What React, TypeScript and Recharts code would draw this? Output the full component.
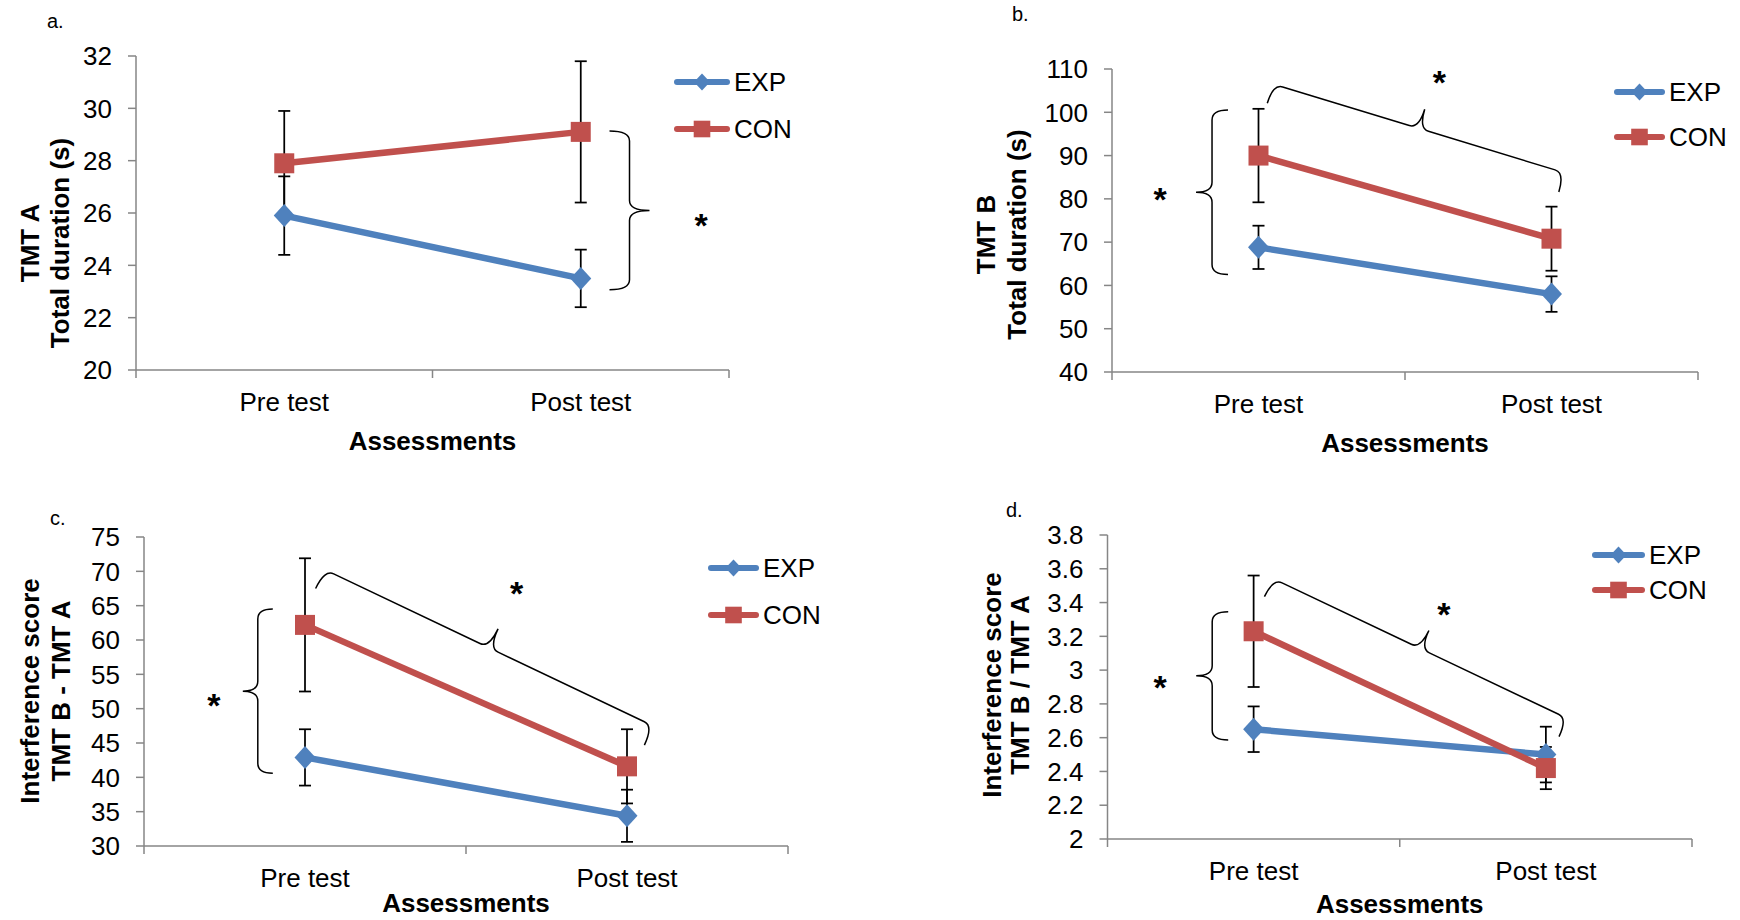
import React from 'react';
import { LineChart, Line, XAxis, YAxis, ErrorBar, Legend, ReferenceLine, ReferenceDot } from 'recharts';

const FONT = '"Liberation Sans", Arial, sans-serif';
const BLUE = '#4F81BD';
const RED = '#C0504D';
const AXIS = '#868686';

const categories = ['Pre test', 'Post test'];
const categoryX = [0.5, 1.5];
const axisTicksX = [0, 0.5, 1, 1.5, 2];
const legendOrder = ['exp', 'con'];

// a. TMT A total duration
const tmtAExp = [25.9, 23.5];
const tmtAExpSd = [1.5, 1.1];
const tmtACon = [27.9, 29.1];
const tmtAConSd = [2.0, 2.7];
const tmtATicks = [20, 22, 24, 26, 28, 30, 32];

// b. TMT B total duration
const tmtBExp = [68.8, 58.0];
const tmtBExpSd = [5.0, 4.1];
const tmtBCon = [90.0, 70.8];
const tmtBConSd = [10.8, 7.4];
const tmtBTicks = [40, 50, 60, 70, 80, 90, 100, 110];

// c. interference score B - A
const diffExp = [42.9, 34.4];
const diffExpSd = [4.1, 3.8];
const diffCon = [62.2, 41.6];
const diffConSd = [9.7, 5.4];
const diffTicks = [30, 35, 40, 45, 50, 55, 60, 65, 70, 75];

// d. interference score B / A
const ratioExp = [2.65, 2.5];
const ratioExpSd = [0.135, 0.165];
const ratioCon = [3.23, 2.42];
const ratioConSd = [0.33, 0.125];
const ratioTicks = [2, 2.2, 2.4, 2.6, 2.8, 3, 3.2, 3.4, 3.6, 3.8];

// significance braces, in data units [x, y] (x runs 0..2 across the two categories)
const tmtABraces = [{ from: [1.597, 29.13], to: [1.597, 23.07], side: -1, half: 20 }];
const tmtAStars = [[1.906, 25.81]];
const tmtBBraces = [
  { from: [0.396, 100.5], to: [0.396, 62.5], side: 1, half: 16 },
  { from: [0.53, 102.1], to: [1.525, 81.6], side: -1, half: 20 },
];
const tmtBStars = [[0.164, 81.6], [1.117, 108.6]];
const diffBraces = [
  { from: [0.4, 64.5], to: [0.4, 40.6], side: 1, half: 15 },
  { from: [0.533, 67.5], to: [1.554, 44.7], side: -1, half: 21 },
];
const diffStars = [[0.217, 51.5], [1.157, 67.9]];
const ratioBraces = [
  { from: [0.413, 3.346], to: [0.413, 2.586], side: 1, half: 16 },
  { from: [0.537, 3.435], to: [1.545, 2.606], side: -1, half: 20 },
];
const ratioStars = [[0.18, 2.942], [1.151, 3.376]];

const panels = [
  {
    letter: 'a.', left: 0, top: 0,
    exp: tmtAExp, expSd: tmtAExpSd, con: tmtACon, conSd: tmtAConSd,
    domain: [20, 32], ticks: tmtATicks, braces: tmtABraces, stars: tmtAStars,
    title: ['TMT A', 'Total duration (s)'],
    margin: { top: 56, right: 141, bottom: 30, left: 76 },
    titleX: [39, 69], titleY: 243, letterPos: [47, 28], xTitleDy: 80,
    legend: { x: 674, y: 81.7, gap: 47.6, line: 56 },
  },
  {
    letter: 'b.', left: 870, top: 0,
    exp: tmtBExp, expSd: tmtBExpSd, con: tmtBCon, conSd: tmtBConSd,
    domain: [40, 110], ticks: tmtBTicks, braces: tmtBBraces, stars: tmtBStars,
    title: ['TMT B', 'Total duration (s)'],
    margin: { top: 69, right: 42, bottom: 28, left: 182 },
    titleX: [125, 155.5], titleY: 234.5, letterPos: [142, 21], xTitleDy: 80,
    legend: { x: 744, y: 91.7, gap: 45, line: 51 },
  },
  {
    letter: 'c.', left: 0, top: 460,
    exp: diffExp, expSd: diffExpSd, con: diffCon, conSd: diffConSd,
    domain: [30, 75], ticks: diffTicks, braces: diffBraces, stars: diffStars,
    title: ['Interference score', 'TMT B - TMT A'],
    margin: { top: 77, right: 82, bottom: 14, left: 84 },
    titleX: [39, 69.5], titleY: 231, letterPos: [50, 65], xTitleDy: 66,
    legend: { x: 708, y: 108, gap: 47, line: 51 },
  },
  {
    letter: 'd.', left: 870, top: 460,
    exp: ratioExp, expSd: ratioExpSd, con: ratioCon, conSd: ratioConSd,
    domain: [2, 3.8], ticks: ratioTicks, braces: ratioBraces, stars: ratioStars,
    title: ['Interference score', 'TMT B / TMT A'],
    margin: { top: 75, right: 48, bottom: 21, left: 177.5 },
    titleX: [130.5, 159], titleY: 225, letterPos: [136, 57], xTitleDy: 74,
    legend: { x: 722, y: 95, gap: 35, line: 53 },
  },
];

const fmt = (v: number) => `${Math.round(v * 10) / 10}`;

function CategoryTick(props: any) {
  const { x, y, payload } = props;
  const idx = categoryX.indexOf(payload.value);
  if (idx >= 0) {
    return (
      <text x={x} y={y + 41} textAnchor="middle" fontSize={26} fontFamily={FONT} fill="#000">
        {categories[idx]}
      </text>
    );
  }
  return <line x1={x} x2={x} y1={y} y2={y + 8} stroke={AXIS} strokeWidth={1.5} />;
}

const diamondDot = (props: any) => {
  const { cx, cy, index } = props;
  if (cx == null || cy == null) return <g key={`dd${index}`} />;
  return (
    <path key={`dd${index}`} d={`M${cx},${cy - 11.5} L${cx + 10.5},${cy} L${cx},${cy + 11.5} L${cx - 10.5},${cy} Z`} fill={BLUE} />
  );
};

const squareDot = (props: any) => {
  const { cx, cy, index } = props;
  if (cx == null || cy == null) return <g key={`sd${index}`} />;
  return <rect key={`sd${index}`} x={cx - 10} y={cy - 10} width={20} height={20} fill={RED} />;
};

function bracePath(x1: number, y1: number, x2: number, y2: number, side: number, h: number) {
  const L = Math.hypot(x2 - x1, y2 - y1) || 1;
  const dx = (x2 - x1) / L;
  const dy = (y2 - y1) / L;
  const nx = -dy * side;
  const ny = dx * side;
  const r = Math.min(10, L / 6);
  const mx = (x1 + x2) / 2;
  const my = (y1 + y2) / 2;
  const pt = (bx: number, by: number, a: number, b: number) => `${bx + nx * a + dx * b},${by + ny * a + dy * b}`;
  return `M${x1},${y1} Q${pt(x1, y1, h, 0)} ${pt(x1, y1, h, r)} L${pt(mx, my, h, -r)} Q${pt(mx, my, h, 0)} ${pt(mx, my, 2 * h, 0)} Q${pt(mx, my, h, 0)} ${pt(mx, my, h, r)} L${pt(x2, y2, h, -r)} Q${pt(x2, y2, h, 0)} ${x2},${y2}`;
}

function Panel({ p }: { p: any }) {
  const data = categoryX.map((x, i) => ({ x, exp: p.exp[i], expSd: p.expSd[i], con: p.con[i], conSd: p.conSd[i] }));
  const plotW = 870 - p.margin.left - 60 - p.margin.right;
  const plotCx = p.margin.left + 60 + plotW / 2;
  const plotBottom = 460 - p.margin.bottom - 60;

  const yTitle = () => (
    <g fontFamily={FONT} fill="#000">
      {p.title.map((t: string, i: number) => (
        <text key={t} x={p.titleX[i]} y={p.titleY} transform={`rotate(-90 ${p.titleX[i]} ${p.titleY})`}
          textAnchor="middle" fontWeight="bold" fontSize={26}>{t}</text>
      ))}
      <text x={p.letterPos[0]} y={p.letterPos[1]} fontSize={20}>{p.letter}</text>
    </g>
  );

  const xTitle = () => (
    <text x={plotCx} y={plotBottom + p.xTitleDy} textAnchor="middle" fontWeight="bold" fontSize={26} fontFamily={FONT} fill="#000">
      Assessments
    </text>
  );

  const legendContent = (props: any) => {
    const items = [...(props.payload || [])].sort(
      (a: any, b: any) => legendOrder.indexOf(a.dataKey) - legendOrder.indexOf(b.dataKey),
    );
    return (
      <div style={{ fontFamily: FONT }}>
        {items.map((item: any) => {
          const isExp = item.dataKey === 'exp';
          const len = p.legend.line;
          const mid = len / 2;
          return (
            <div key={item.value} style={{ display: 'flex', alignItems: 'center', height: p.legend.gap }}>
              <svg width={len} height={20} style={{ display: 'block' }}>
                <line x1={3} x2={len - 3} y1={10} y2={10} stroke={item.color} strokeWidth={6} strokeLinecap="round" />
                {isExp
                  ? <path d={`M${mid},1.5 L${mid + 8},10 L${mid},18.5 L${mid - 8},10 Z`} fill={BLUE} />
                  : <rect x={mid - 8.3} y={1.7} width={16.6} height={16.6} fill={RED} />}
              </svg>
              <span style={{ fontSize: 26, marginLeft: 4, lineHeight: 1, color: '#000' }}>{item.value}</span>
            </div>
          );
        })}
      </div>
    );
  };

  return (
    <div style={{ position: 'absolute', left: p.left, top: p.top }}>
      <LineChart width={870} height={460} data={data} margin={p.margin}>
        <XAxis type="number" dataKey="x" domain={[0, 2]} ticks={axisTicksX} interval={0} height={60}
          tickLine={false} tickSize={0} tickMargin={0} tick={<CategoryTick />}
          axisLine={{ stroke: AXIS, strokeWidth: 1.5 }} label={xTitle} />
        <YAxis type="number" domain={p.domain} ticks={p.ticks} interval={0} width={60}
          tickSize={8} tickMargin={16} tickFormatter={fmt}
          tickLine={{ stroke: AXIS, strokeWidth: 1.5 }} axisLine={{ stroke: AXIS, strokeWidth: 1.5 }}
          tick={{ fontSize: 26, fill: '#000', fontFamily: FONT }} label={yTitle} />
        <Legend layout="vertical" align="center" verticalAlign="middle" content={legendContent}
          wrapperStyle={{ left: p.legend.x, top: p.legend.y - p.legend.gap / 2, width: 160 }} />
        <Line dataKey="exp" name="EXP" stroke={BLUE} strokeWidth={6.5} dot={diamondDot} activeDot={false} isAnimationActive={false}>
          <ErrorBar dataKey="expSd" direction="y" width={6} strokeWidth={1.75} stroke="#000" />
        </Line>
        <Line dataKey="con" name="CON" stroke={RED} strokeWidth={6.5} dot={squareDot} activeDot={false} isAnimationActive={false}>
          <ErrorBar dataKey="conSd" direction="y" width={6} strokeWidth={1.75} stroke="#000" />
        </Line>
        {p.braces.map((b: any, i: number) => (
          <ReferenceLine key={`br${i}`} segment={[{ x: b.from[0], y: b.from[1] }, { x: b.to[0], y: b.to[1] }]} ifOverflow="visible"
            shape={(s: any) => (
              <path d={bracePath(s.x1, s.y1, s.x2, s.y2, b.side, b.half)} fill="none" stroke="#000" strokeWidth={1.5} />
            )} />
        ))}
        {p.stars.map((s: number[], i: number) => (
          <ReferenceDot key={`st${i}`} x={s[0]} y={s[1]} r={0} ifOverflow="visible"
            shape={(d: any) => (
              <text x={d.cx} y={d.cy + 19} textAnchor="middle" fontSize={34} fontWeight="bold" fontFamily={FONT} fill="#000">*</text>
            )} />
        ))}
      </LineChart>
    </div>
  );
}

export default function App() {
  return (
    <div style={{ position: 'relative', width: 1740, height: 920, background: '#fff', overflow: 'hidden' }}>
      <style>{'body{margin:0;}'}</style>
      {panels.map((p) => <Panel key={p.letter} p={p} />)}
    </div>
  );
}
